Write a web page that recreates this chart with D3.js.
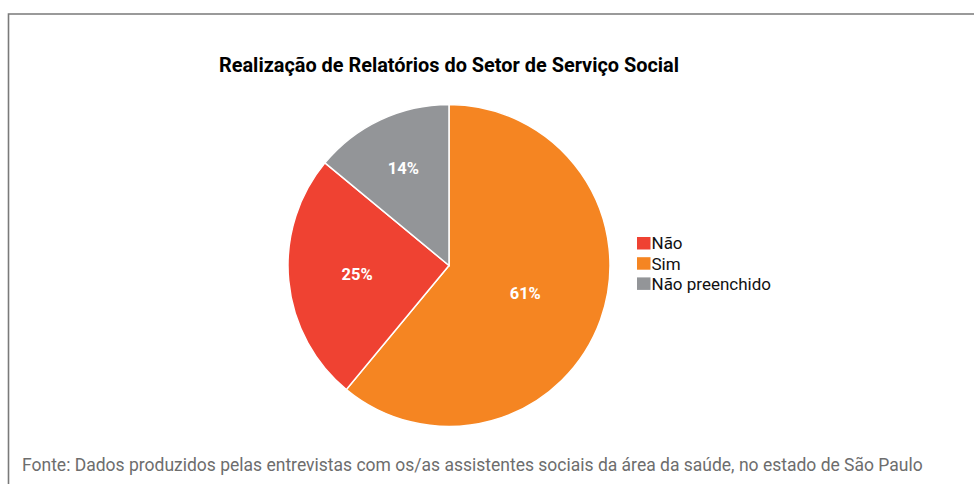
<!DOCTYPE html>
<html>
<head>
<meta charset="utf-8">
<script src="https://cdn.jsdelivr.net/npm/d3@7"></script>
<style>
  body { margin: 0; background: #fff; }
  text { font-family: Roboto, "Liberation Sans", sans-serif; }
</style>
</head>
<body>
<div id="chart"></div>
<script>
// pie order (clockwise from 12 o'clock)
const categories = ["Sim", "Não", "Não preenchido"];
const values = [61, 25, 14];
const colors = ["#f58522", "#ef4232", "#939598"];
// legend order
const legendOrder = ["Não", "Sim", "Não preenchido"];

const title = "Realização de Relatórios do Setor de Serviço Social";
const source = "Fonte: Dados produzidos pelas entrevistas com os/as assistentes sociais da área da saúde, no estado de São Paulo";

const W = 974, H = 484;
const cx = 449, cy = 265.5, R = 161;

const svg = d3.select("#chart").append("svg")
    .attr("width", W)
    .attr("height", H);

// frame (open on the right and bottom, cropped)
svg.append("path")
    .attr("d", `M8.5,${H + 2} L8.5,14 L${W + 2},14`)
    .attr("fill", "none")
    .attr("stroke", "#7a7a7a")
    .attr("stroke-width", 1.6);

svg.append("text")
    .attr("x", cx)
    .attr("y", 72)
    .attr("text-anchor", "middle")
    .attr("font-size", "19.9px")
    .attr("font-weight", "bold")
    .attr("fill", "#000")
    .text(title);

const color = d3.scaleOrdinal().domain(categories).range(colors);
const total = d3.sum(values);

const pie = d3.pie().sort(null).value(d => d.value);
const arcs = pie(categories.map((c, i) => ({cat: c, value: values[i]})));
const arc = d3.arc().innerRadius(0).outerRadius(R);

const g = svg.append("g").attr("transform", `translate(${cx},${cy})`);

g.selectAll("path.slice")
    .data(arcs)
    .join("path")
    .attr("class", "slice")
    .attr("d", arc)
    .attr("fill", d => color(d.data.cat))
    .attr("stroke", "#fff")
    .attr("stroke-width", 1.5);

// labels pushed outward for smaller slices
g.selectAll("text.lbl")
    .data(arcs)
    .join("text")
    .attr("class", "lbl")
    .attr("transform", d => {
        const f = d.data.value / total;
        const r = R * (0.455 + 0.0295 / f);
        const a = (d.startAngle + d.endAngle) / 2;
        return `translate(${Math.sin(a) * r},${-Math.cos(a) * r})`;
    })
    .attr("text-anchor", "middle")
    .attr("dy", "0.36em")
    .attr("font-size", "16.5px")
    .attr("font-weight", "bold")
    .attr("fill", "#fff")
    .text(d => d.data.value + "%");

// legend
const legend = svg.append("g").attr("transform", "translate(637,237)");
legendOrder.forEach((name, i) => {
    const row = legend.append("g").attr("transform", `translate(0,${i * 20.2})`);
    row.append("rect")
        .attr("width", 13.5)
        .attr("height", 12.5)
        .attr("fill", color(name));
    row.append("text")
        .attr("x", 14.5)
        .attr("y", 12.3)
        .attr("font-size", "17px")
        .attr("fill", "#111")
        .text(name);
});

svg.append("text")
    .attr("x", 22)
    .attr("y", 471)
    .attr("font-size", "17.5px")
    .attr("fill", "#6d6d6d")
    .text(source);
</script>
</body>
</html>
